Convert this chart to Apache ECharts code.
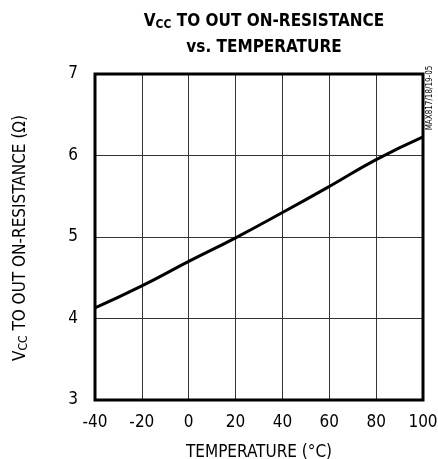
<!DOCTYPE html>
<html>
<head>
<meta charset="utf-8">
<script src="https://cdn.jsdelivr.net/npm/echarts@6/dist/echarts.min.js"></script>
<style>
  html, body { margin: 0; padding: 0; background: #fff; }
  #main { width: 438px; height: 459px; }
</style>
</head>
<body>
<div id="main"></div>
<script>
// temperature (°C) vs on-resistance (Ω)
var temps = [-40, -20, 0, 20, 40, 60, 80, 100];
var resistance = [4.13, 4.4, 4.7, 4.99, 5.3, 5.62, 5.95, 6.23];
var xTicks = [-40, -20, 0, 20, 40, 60, 80, 100];
var yTicks = [3, 4, 5, 6, 7];

var narrow = '"Liberation Sans Narrow", "DejaVu Sans Condensed", "Liberation Sans", sans-serif';

var chart = echarts.init(document.getElementById('main'));

chart.setOption({
  animation: false,
  backgroundColor: '#fff',
  title: {
    text: '{v|V}{sub|CC}{t| TO OUT ON-RESISTANCE}\n{t|vs. TEMPERATURE}',
    left: 259,
    top: 4,
    textAlign: 'center',
    textStyle: {
      rich: {
        v: { fontFamily: narrow, fontWeight: 'bold', fontSize: 17, color: '#000', lineHeight: 26 },
        sub: { fontFamily: narrow, fontWeight: 'bold', fontSize: 12, color: '#000', padding: [6, 0, 0, 0], lineHeight: 26 },
        t: { fontFamily: narrow, fontWeight: 'bold', fontSize: 17, color: '#000', lineHeight: 26 }
      }
    }
  },
  grid: { left: 95, right: 15, top: 74, bottom: 59, outerBoundsMode: 'none', containLabel: false },
  xAxis: {
    type: 'value',
    min: -40,
    max: 100,
    interval: 20,
    name: 'TEMPERATURE (°C)',
    nameLocation: 'middle',
    nameGap: 44,
    nameTextStyle: { fontFamily: narrow, fontSize: 17, color: '#000' },
    axisLine: { show: false },
    axisTick: { show: false },
    axisLabel: {
      margin: 14,
      fontFamily: narrow, fontSize: 17, color: '#000',
      formatter: function (v) { return xTicks.indexOf(v) >= 0 ? String(v) : ''; }
    },
    splitLine: { show: true, lineStyle: { color: '#333', width: 1 } }
  },
  yAxis: {
    type: 'value',
    min: 3,
    max: 7,
    interval: 1,
    axisLine: { show: false },
    axisTick: { show: false },
    axisLabel: {
      margin: 17,
      fontFamily: narrow, fontSize: 17, color: '#000',
      formatter: function (v) { return yTicks.indexOf(v) >= 0 ? String(v) : ''; }
    },
    splitLine: { show: true, lineStyle: { color: '#333', width: 1 } }
  },
  graphic: [
    {
      type: 'rect',
      shape: { x: 95, y: 74, width: 328, height: 326 },
      style: { fill: 'none', stroke: '#000', lineWidth: 3 },
      z: 10
    },
    {
      type: 'text',
      x: 21,
      y: 238,
      rotation: Math.PI / 2,
      style: {
        text: '{v|V}{sub|CC}{t| TO OUT ON-RESISTANCE (Ω)}',
        align: 'center',
        verticalAlign: 'middle',
        rich: {
          v: { fontFamily: narrow, fontSize: 17, fill: '#000' },
          sub: { fontFamily: narrow, fontSize: 12, fill: '#000', padding: [6, 0, 0, 0] },
          t: { fontFamily: narrow, fontSize: 17, fill: '#000' }
        }
      }
    },
    {
      type: 'text',
      x: 430,
      y: 98,
      rotation: Math.PI / 2,
      style: {
        text: 'MAX817/18/19-05',
        align: 'center',
        verticalAlign: 'middle',
        fontFamily: narrow,
        fontSize: 8,
        fill: '#000'
      }
    }
  ],
  series: [
    {
      type: 'line',
      data: temps.map(function (t, i) { return [t, resistance[i]]; }),
      smooth: true,
      showSymbol: false,
      lineStyle: { color: '#000', width: 3 },
      z: 5
    }
  ]
});
</script>
</body>
</html>
